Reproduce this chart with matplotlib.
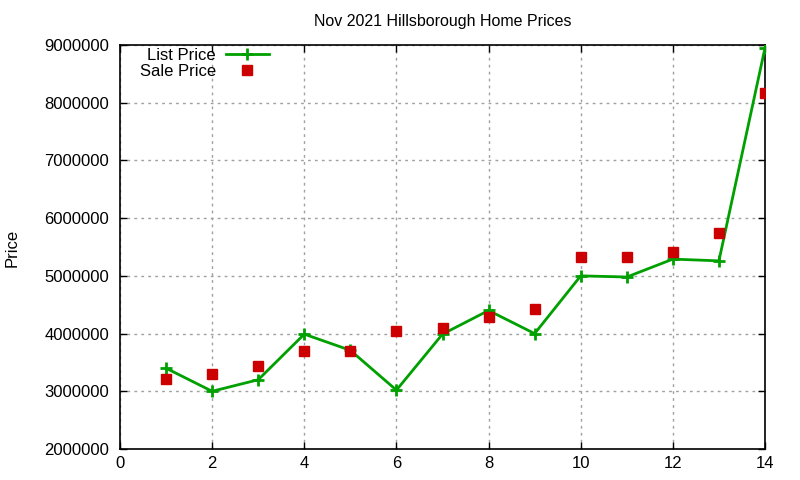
import matplotlib
matplotlib.use("Agg")
import matplotlib.pyplot as plt
from matplotlib.ticker import MultipleLocator, FuncFormatter

x_vals = [1, 2, 3, 4, 5, 6, 7, 8, 9, 10, 11, 12, 13, 14]
list_price = [3400000, 3000000, 3200000, 3990000, 3710000, 3020000, 3990000,
              4400000, 4000000, 5000000, 4980000, 5290000, 5260000, 8950000]
sale_price = [3220000, 3300000, 3430000, 3700000, 3700000, 4050000, 4100000,
              4280000, 4420000, 5330000, 5330000, 5420000, 5750000, 8160000]

plt.rcParams['font.family'] = ['Liberation Sans', 'DejaVu Sans']

fig = plt.figure(figsize=(8, 4.8), dpi=100)
ax = fig.add_axes([120/800, 1-449/480, (765-120)/800, (449-45)/480])

ax.plot(x_vals, list_price, color='#00a000', lw=2, marker='+', ms=9, mew=2,
        label='List Price', zorder=3)
ax.plot(x_vals, sale_price, ls='none', color='#cc0000', marker='s', ms=7,
        label='Sale Price', zorder=4)

ax.set_xlim(0, 14)
ax.set_ylim(2000000, 9000000)
ax.xaxis.set_major_locator(MultipleLocator(2))
ax.yaxis.set_major_locator(MultipleLocator(1000000))
ax.yaxis.set_major_formatter(FuncFormatter(lambda v, p: f"{int(round(v))}"))
ax.tick_params(direction='in', length=5, width=1, top=True, right=True,
               labelsize=12, pad=8, colors='black')
ax.tick_params(axis='x', pad=5)
for s in ax.spines.values():
    s.set_linewidth(1.2)
ax.grid(True, color='#a0a0a0', ls=(0, (2, 3)), lw=1)
ax.set_axisbelow(True)

ax.set_title('Nov 2021 Hillsborough Home Prices', fontsize=11.5, pad=14)
fig.text(12/800, 1-248/480, 'Price', rotation=90, ha='center', va='center',
         fontsize=12)

leg = ax.legend(loc='upper right', bbox_to_anchor=(269/800, 1-48/480),
                bbox_transform=fig.transFigure, frameon=False,
                markerfirst=False, fontsize=12, handlelength=2.6,
                handletextpad=0.6, borderaxespad=0, borderpad=0,
                labelspacing=0.05)
for t in leg.get_texts():
    t.set_ha('right')

fig.savefig('out.png', dpi=100)
